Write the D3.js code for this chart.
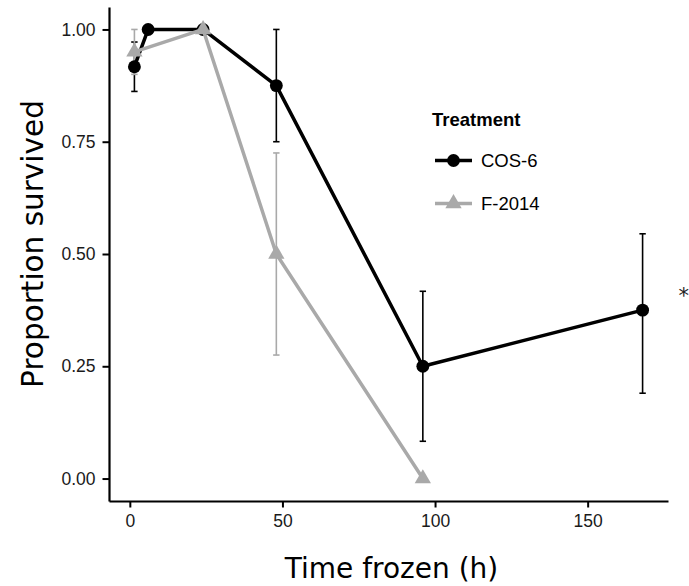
<!DOCTYPE html>
<html lang="en">
<head>
  <meta charset="UTF-8">
  <title>survival-chart</title>
  <script src="https://cdn.jsdelivr.net/npm/d3@7"></script>
  <style>
    body { margin: 0; background: #fff; }
    .tick text { font-family: "Liberation Sans", Arial, sans-serif; font-size: 17.5px; fill: #1a1a1a; }
    .axis-title { font-family: "DejaVu Sans", Verdana, sans-serif; font-size: 28px; fill: #000; }
  </style>
</head>
<body>
<script>
// data
let treatments = ['COS-6', 'F-2014'];
let cosTime  = [1.5, 6, 24, 48, 96, 168];
let cosMean  = [0.917, 1.0, 1.0, 0.875, 0.25, 0.375];
let cosLow   = [0.862, 1.0, 1.0, 0.75, 0.083, 0.19];
let cosHigh  = [0.972, 1.0, 1.0, 1.0, 0.417, 0.545];
let fTime    = [1.5, 24, 48, 96];
let fMean    = [0.95, 1.0, 0.5, 0.0];
let fLow     = [0.9, 1.0, 0.275, 0.0];
let fHigh    = [1.0, 1.0, 0.725, 0.0];
let xTicks = [0, 50, 100, 150];
let yTicks = [0, 0.25, 0.5, 0.75, 1.0];
let star = {x: 181.5, y: 0.39, label: '*'};

let width = 689, height = 586;
let margins = {top: 7, left: 109, right: 21, bottom: 85};
let colors = d3.scaleOrdinal().domain(treatments).range(['#000000', '#a9a9a9']);

function toRows(t, m, lo, hi) {
  return t.map(function (d, i) { return {x: d, y: m[i], lo: lo[i], hi: hi[i]}; });
}
let series = [
  {name: 'COS-6', rows: toRows(cosTime, cosMean, cosLow, cosHigh)},
  {name: 'F-2014', rows: toRows(fTime, fMean, fLow, fHigh)}
];

function expand(ext) {
  let pad = (ext[1] - ext[0]) * 0.05;
  return [ext[0] - pad, ext[1] + pad];
}
let allX = cosTime.concat(fTime);
let allY = cosLow.concat(cosHigh, fLow, fHigh);

let x = d3.scaleLinear().domain(expand(d3.extent(allX))).range([margins.left, width - margins.right]);
let y = d3.scaleLinear().domain(expand([Math.min(0, d3.min(allY)), d3.max(allY)])).range([height - margins.bottom, margins.top]);

let svg = d3.select('body').append('svg')
  .attr('width', width)
  .attr('height', height);

// axes
svg.append('g')
  .attr('class', 'x axis')
  .attr('transform', 'translate(0,' + (height - margins.bottom) + ')')
  .call(d3.axisBottom(x).tickValues(xTicks).tickSizeInner(6.5).tickSizeOuter(0).tickPadding(7))
  .call(function (g) {
    g.select('.domain').attr('stroke-width', 2.2);
    g.selectAll('.tick line').attr('stroke-width', 2);
  });

svg.append('g')
  .attr('class', 'y axis')
  .attr('transform', 'translate(' + margins.left + ',0)')
  .call(d3.axisLeft(y).tickValues(yTicks).tickFormat(d3.format('.2f')).tickSizeInner(6.5).tickSizeOuter(0).tickPadding(7))
  .call(function (g) {
    g.select('.domain').attr('stroke-width', 2.2);
    g.selectAll('.tick line').attr('stroke-width', 2);
  });

// titles
svg.append('text')
  .attr('class', 'axis-title')
  .attr('x', (x.range()[0] + x.range()[1]) / 2 + 3)
  .attr('y', 578)
  .attr('text-anchor', 'middle')
  .text('Time frozen (h)');

svg.append('text')
  .attr('class', 'axis-title')
  .attr('font-size', 29.5)
  .style('font-size', '29.5px')
  .attr('transform', 'translate(43,' + ((y.range()[0] + y.range()[1]) / 2 - 10) + ') rotate(-90)')
  .attr('text-anchor', 'middle')
  .text('Proportion survived');

let body = svg.append('g').attr('class', 'body');
let line = d3.line().x(function (d) { return x(d.x); }).y(function (d) { return y(d.y); });
let triangle = d3.symbol().type(d3.symbolTriangle).size(115);
let circle = d3.symbol().type(d3.symbolCircle).size(130);

// error bars drawn per series, under the lines
series.forEach(function (s) {
  let c = colors(s.name);
  let bars = body.selectAll('g.err-' + s.name)
    .data(s.rows.filter(function (d) { return d.hi > d.lo; }))
    .enter().append('g')
    .attr('stroke', c)
    .attr('stroke-width', 1.6);
  bars.append('line')
    .attr('x1', function (d) { return x(d.x); })
    .attr('x2', function (d) { return x(d.x); })
    .attr('y1', function (d) { return y(d.lo); })
    .attr('y2', function (d) { return y(d.hi); });
  [function (d) { return d.lo; }, function (d) { return d.hi; }].forEach(function (f) {
    bars.append('line')
      .attr('x1', function (d) { return x(d.x) - 3.2; })
      .attr('x2', function (d) { return x(d.x) + 3.2; })
      .attr('y1', function (d) { return y(f(d)); })
      .attr('y2', function (d) { return y(f(d)); });
  });
});

series.forEach(function (s) {
  let c = colors(s.name);
  body.append('path')
    .datum(s.rows)
    .attr('fill', 'none')
    .attr('stroke', c)
    .attr('stroke-width', 3.5)
    .attr('stroke-linejoin', 'round')
    .attr('d', line);
  body.selectAll('path.pt-' + s.name)
    .data(s.rows)
    .enter().append('path')
    .attr('fill', c)
    .attr('transform', function (d) { return 'translate(' + x(d.x) + ',' + y(d.y) + ')'; })
    .attr('d', s.name === 'COS-6' ? circle : triangle);
});

// significance mark
svg.append('text')
  .attr('x', x(star.x))
  .attr('y', y(star.y))
  .attr('text-anchor', 'middle')
  .attr('font-family', 'DejaVu Sans, sans-serif')
  .attr('font-size', 21)
  .attr('fill', '#222')
  .text(star.label);

// legend
let legend = svg.append('g').attr('transform', 'translate(432,0)');
legend.append('text')
  .attr('x', 0)
  .attr('y', 126)
  .attr('font-family', 'Liberation Sans, Arial, sans-serif')
  .attr('font-weight', 'bold')
  .attr('font-size', 18.5)
  .text('Treatment');

treatments.forEach(function (t, i) {
  let ly = 160.5 + i * 43;
  let g = legend.append('g').attr('transform', 'translate(0,' + ly + ')');
  g.append('line')
    .attr('x1', 3).attr('x2', 40)
    .attr('stroke', colors(t))
    .attr('stroke-width', 3.5);
  g.append('path')
    .attr('transform', 'translate(21.5,0)')
    .attr('fill', colors(t))
    .attr('d', i === 0 ? circle : triangle);
  g.append('text')
    .attr('x', 49)
    .attr('y', 6.5)
    .attr('font-family', 'Liberation Sans, Arial, sans-serif')
    .attr('font-size', 18.5)
    .text(t);
});
</script>
</body>
</html>
